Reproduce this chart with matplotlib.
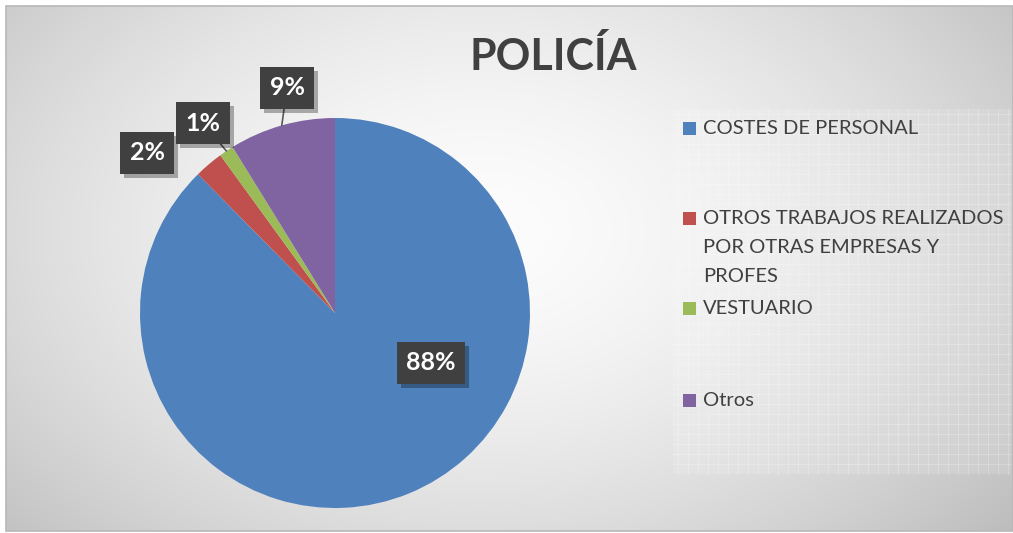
import numpy as np
import matplotlib
matplotlib.use("Agg")
import matplotlib.pyplot as plt
import matplotlib.patheffects as pe
from matplotlib.patches import Rectangle

# ---- data ----
categories = ["COSTES DE PERSONAL",
              "OTROS TRABAJOS REALIZADOS\nPOR OTRAS EMPRESAS Y\nPROFES",
              "VESTUARIO",
              "Otros"]
values = [87.6, 2.4, 1.2, 8.8]
colors = ["#4F81BD", "#C0504D", "#9BBB59", "#8064A2"]
title = "POLICÍA"

plt.rcParams['font.family'] = ['Lato', 'DejaVu Sans']

W, H = 1013, 533
fig = plt.figure(figsize=(W / 100, H / 100), dpi=100)
fig.patch.set_facecolor("white")

# ---- background (pixel coordinates) ----
bg = fig.add_axes([0, 0, 1, 1])
bg.set_xlim(0, W)
bg.set_ylim(H, 0)
bg.axis("off")
yy, xx = np.mgrid[6:531, 6:1013]
d = np.sqrt(((xx - 480) / 640.0) ** 2 + ((yy - 230) / 430.0) ** 2)
g = np.clip(0.99 - 0.22 * d ** 1.6, 0, 1)
bg.imshow(np.dstack([g, g, g]), extent=[6, 1013, 531, 6], aspect="auto",
          interpolation="bilinear", zorder=0)
bg.add_patch(Rectangle((6, 6), 1007, 525, fill=False, edgecolor="#b8b8b8",
                       linewidth=1.2, zorder=1))
# textured legend area
lx0, lx1, ly0, ly1 = 673, 1011, 109, 474
bg.add_patch(Rectangle((lx0, ly0), lx1 - lx0, ly1 - ly0, facecolor="white",
                       alpha=0.12, edgecolor="none", zorder=1))
for x in np.arange(lx0 + 5, lx1, 10):
    bg.plot([x, x], [ly0, ly1], color="white", alpha=0.22, lw=0.8, zorder=1)
for y in np.arange(ly0 + 5, ly1, 10):
    bg.plot([lx0, lx1], [y, y], color="white", alpha=0.22, lw=0.8, zorder=1)

# ---- title ----
fig.text(553 / W, 1 - 56 / H, title, ha="center", va="center",
         fontsize=31, fontweight="bold", color="#404040")

# ---- pie ----
ax = fig.add_axes([140 / W, 25 / H, 390 / W, 390 / H])
wedges, _ = ax.pie(values, colors=colors, startangle=90, counterclock=False,
                   wedgeprops=dict(linewidth=0))
ax.set_xlim(-1, 1)
ax.set_ylim(-1, 1)
ax.set_aspect("equal")
ax.axis("off")

# label layout (data coords of the box centres) and whether a leader line is drawn
label_pos = [(0.492, -0.256), (-0.964, 0.821), (-0.677, 0.974), (-0.246, 1.154)]
leader = [False, False, True, True]

for w, v, pos, lead in zip(wedges, values, label_pos, leader):
    mid = np.deg2rad((w.theta1 + w.theta2) / 2)
    rim = (np.cos(mid), np.sin(mid))
    kw = {}
    if lead:
        kw["arrowprops"] = dict(arrowstyle="-", color="#595959", lw=1.2,
                                shrinkA=0, shrinkB=0)
    t = ax.annotate(f"{round(v)}%", xy=rim, xytext=pos, textcoords="data",
                    ha="center", va="center", fontsize=18, fontweight="bold",
                    color="white", zorder=5,
                    bbox=dict(boxstyle="square,pad=0.38", facecolor="#404040",
                              edgecolor="none"), **kw)
    t.get_bbox_patch().set_path_effects(
        [pe.withSimplePatchShadow(offset=(3, -3), shadow_rgbFace="black", alpha=0.3)])

# ---- legend (manual) ----
leg_y = [128, 218, 308, 400]
for cat, col, y in zip(categories, colors, leg_y):
    bg.add_patch(Rectangle((683, y - 6.5), 13, 13, facecolor=col,
                           edgecolor="none", zorder=3))
    bg.text(703, y - 8, cat, ha="left", va="top", fontsize=14.5,
            color="#404040", linespacing=1.85, zorder=3)

fig.savefig("out.png", dpi=100)
